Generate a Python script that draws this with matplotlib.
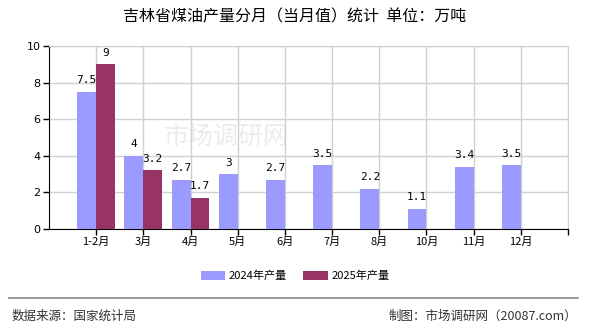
import matplotlib
matplotlib.use("Agg")
import matplotlib.pyplot as plt
import numpy as np

plt.rcParams['font.family'] = ['Noto Sans CJK SC', 'DejaVu Sans']

months = ["1-2月", "3月", "4月", "5月", "6月", "7月", "8月", "10月", "11月", "12月"]
output_2024 = [7.5, 4, 2.7, 3, 2.7, 3.5, 2.2, 1.1, 3.4, 3.5]
output_2025 = [9, 3.2, 1.7]
series_names = ["2024年产量", "2025年产量"]
title = "吉林省煤油产量分月（当月值）统计  单位：万吨"
yticks = [0, 2, 4, 6, 8, 10]

c2024 = "#9b9bff"
c2025 = "#993366"

W, H = 590, 330
fig = plt.figure(figsize=(W / 100, H / 100), dpi=100)
ax = fig.add_axes([49 / W, 1 - 229 / H, (568 - 49) / W, (229 - 46) / H])

x = np.arange(1, len(months) + 1)
bw = 0.4
x25 = x[:len(output_2025)]
ax.bar(x - bw / 2, output_2024, width=bw, color=c2024, label=series_names[0], zorder=3)
ax.bar(x25 + bw / 2, output_2025, width=bw, color=c2025, label=series_names[1], zorder=3)

for xi, v in zip(x, output_2024):
    ax.text(xi - bw / 2, v + 0.35, f"{v:g}", ha="center", va="bottom",
            fontsize=8, family="DejaVu Sans Mono", zorder=4)
for xi, v in zip(x25, output_2025):
    ax.text(xi + bw / 2, v + 0.35, f"{v:g}", ha="center", va="bottom",
            fontsize=8, family="DejaVu Sans Mono", zorder=4)

ax.set_xlim(0, len(months) + 1)
ax.set_ylim(0, 10)
ax.set_yticks(yticks)
ax.set_yticklabels([str(t) for t in yticks], fontsize=8, family="DejaVu Sans")
ax.set_xticks(list(x) + [len(months) + 1])
ax.set_xticklabels(months + [""], fontsize=8)
ax.grid(True, color="#d0d0d0", linewidth=1, zorder=0)
for s in ["top", "right"]:
    ax.spines[s].set_color("#d0d0d0")
for s in ["left", "bottom"]:
    ax.spines[s].set_color("black")
ax.tick_params(axis="both", length=4, width=1, color="black", pad=2)

# faint watermark
ax.text(3.75, 5.0, "市场调研网", fontsize=18, color="#ececec", ha="center", va="center", zorder=1)

fig.text(0.5, 1 - 17 / H, title, ha="center", va="center", fontsize=11.5, fontweight="medium")

leg = fig.legend(loc="center", bbox_to_anchor=(0.5, 1 - 276 / H), ncol=2, frameon=False,
                 fontsize=8, handlelength=2.2, handleheight=0.8, columnspacing=1.5, handletextpad=0.3)

fig.add_artist(plt.Line2D([9 / W, 578 / W], [1 - 298 / H, 1 - 298 / H], color="#888888", linewidth=1.2))
fig.text(12 / W, 1 - 316 / H, "数据来源：国家统计局", ha="left", va="center", fontsize=9, color="#333333")
fig.text(577 / W, 1 - 316 / H, "制图：市场调研网（20087.com）", ha="right", va="center", fontsize=9, color="#333333")

fig.savefig("out.png", dpi=100)
